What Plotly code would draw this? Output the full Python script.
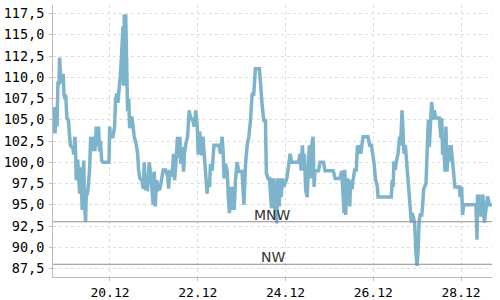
import pandas as pd
import plotly.graph_objects as go

start_time = "2023-12-18 16:50"

hours = [
    0.0, 0.5, 1.1, 1.8, 2.2, 2.7, 3.3, 3.6, 4.2, 4.6, 5.1, 5.6, 6.0, 6.6, 6.9, 7.6, 8.4, 8.7, 9.5, 10.2,
    10.9, 11.3, 12.0, 12.4, 12.7, 13.5, 14.0, 14.6, 15.1, 15.7, 16.0, 16.4, 16.8, 17.1, 17.5, 17.8, 18.2, 18.8, 19.3, 20.0,
    20.6, 21.5, 22.2, 22.9, 23.7, 24.4, 24.9, 25.5, 26.0, 26.6, 27.3, 30.6, 31.0, 31.5, 32.8, 33.7, 34.2, 35.0, 35.5, 36.1,
    36.8, 37.5, 37.9, 38.3, 38.6, 39.0, 39.8, 40.2, 40.8, 41.4, 41.9, 42.4, 43.2, 43.9, 44.4, 45.4, 46.3, 46.8, 47.5, 48.6,
    49.4, 49.9, 50.5, 51.7, 52.6, 53.6, 54.1, 54.8, 55.4, 55.9, 56.6, 57.7, 58.5, 59.6, 60.3, 61.7, 62.7, 63.2, 63.9, 64.7,
    65.4, 65.9, 66.5, 67.2, 68.1, 68.7, 69.4, 69.9, 70.8, 71.4, 71.9, 72.7, 73.6, 74.5, 75.4, 76.3, 77.2, 78.1, 78.9, 79.4,
    80.1, 80.7, 81.2, 82.0, 82.7, 83.4, 84.3, 84.9, 85.6, 86.1, 87.1, 88.0, 90.7, 91.6, 92.5, 93.1, 93.6, 94.3, 95.3, 95.8,
    96.5, 97.1, 97.6, 98.3, 99.1, 99.8, 100.7, 101.6, 103.4, 104.4, 105.3, 106.2, 107.1, 108.0, 108.9, 109.8, 110.7, 112.9, 113.5, 114.4,
    115.3, 116.2, 116.7, 117.6, 118.4, 118.9, 119.5, 120.0, 120.4, 120.8, 121.5, 121.8, 122.4, 122.9, 123.7, 124.2, 124.8, 125.5, 126.2, 127.9,
    128.8, 129.7, 130.6, 134.2, 135.1, 135.7, 136.4, 137.0, 137.5, 138.2, 139.0, 139.7, 140.2, 141.0, 141.5, 142.2, 142.8, 143.3, 145.2, 146.1,
    147.9, 148.8, 153.3, 154.3, 157.0, 157.9, 158.8, 159.2, 159.6, 160.1, 160.6, 161.4, 161.9, 162.3, 162.8, 163.6, 164.1, 165.0, 165.9, 166.5,
    167.2, 167.7, 168.3, 169.0, 169.6, 172.3, 173.2, 174.1, 175.0, 175.6, 176.3, 177.4, 177.8, 185.0, 185.6, 186.0, 186.5, 187.2, 187.8, 188.7,
    189.6, 190.1, 190.9, 191.4, 192.0, 192.7, 193.4, 194.2, 194.7, 195.2, 196.0, 196.5, 197.8, 198.4, 199.1, 199.7, 200.2, 200.9, 201.6, 202.2,
    202.7, 204.0, 204.9, 205.3, 205.8, 206.4, 206.7, 207.1, 207.6, 208.2, 208.5, 209.5, 211.3, 212.2, 212.6, 213.1, 213.6, 214.4, 214.9, 215.5,
    216.2, 216.9, 217.7, 218.4, 219.1, 219.8, 222.2, 222.7, 223.5, 224.0, 224.6, 231.3, 231.9, 232.2, 233.1, 234.0, 234.6, 235.1, 235.9, 236.8,
    237.7, 238.6, 240.1,
]

levels = [
    103.5, 106.5, 103.4, 106.5, 104.2, 109.3, 109.3, 112.3, 110.0, 109.3, 110.2, 110.2, 108.0, 107.4, 108.0, 105.2, 105.0, 103.8, 102.0, 101.8,
    101.8, 100.9, 103.0, 101.0, 97.9, 100.3, 97.1, 96.3, 99.4, 96.0, 94.4, 98.0, 100.2, 96.0, 94.4, 93.0, 96.3, 96.3, 97.2, 99.0,
    103.0, 101.3, 103.0, 101.3, 104.2, 101.9, 104.2, 101.3, 102.5, 100.2, 100.0, 100.0, 104.2, 103.0, 103.0, 104.2, 107.4, 108.1, 107.0, 109.3,
    110.2, 112.6, 116.0, 116.0, 109.0, 117.2, 117.2, 109.0, 106.0, 107.5, 104.0, 105.2, 105.2, 104.0, 103.0, 102.2, 101.0, 99.1, 98.1, 97.9,
    96.9, 100.0, 96.9, 96.8, 100.0, 98.3, 96.8, 95.0, 98.9, 94.8, 97.9, 96.8, 96.9, 98.3, 99.1, 99.1, 98.3, 96.9, 99.1, 98.3,
    99.1, 101.0, 97.9, 99.8, 103.0, 100.5, 103.0, 99.8, 101.8, 98.9, 101.0, 102.2, 103.0, 106.1, 105.0, 105.2, 104.2, 106.1, 104.2, 100.9,
    103.6, 102.8, 100.8, 103.0, 101.0, 98.3, 96.3, 97.9, 97.1, 99.8, 99.0, 102.0, 102.0, 101.0, 103.0, 101.0, 98.1, 99.8, 98.9, 96.3,
    94.0, 97.1, 94.4, 97.1, 94.4, 97.9, 100.0, 98.9, 98.9, 95.0, 99.8, 102.0, 103.0, 104.9, 108.0, 108.0, 111.0, 111.0, 108.8, 106.7,
    104.9, 104.9, 98.7, 98.1, 98.1, 96.0, 94.6, 98.1, 96.3, 98.1, 93.6, 96.3, 92.8, 98.1, 94.8, 98.1, 95.9, 98.1, 97.1, 98.1,
    100.0, 101.0, 100.0, 100.0, 101.0, 99.0, 102.0, 99.0, 101.0, 96.7, 95.9, 99.0, 102.0, 98.1, 102.0, 103.0, 97.1, 99.0, 99.0, 100.0,
    100.0, 99.0, 99.0, 98.1, 98.1, 99.0, 94.8, 94.0, 99.1, 93.8, 97.9, 97.9, 96.8, 94.8, 97.9, 96.8, 97.9, 99.1, 99.1, 102.0,
    101.0, 102.0, 101.0, 102.0, 103.0, 103.0, 102.0, 102.0, 101.0, 99.9, 98.1, 97.1, 95.9, 95.9, 97.9, 97.1, 100.1, 99.1, 100.1, 101.0,
    103.0, 102.0, 106.1, 102.0, 101.0, 102.0, 99.9, 97.1, 95.9, 94.0, 92.9, 94.0, 92.9, 89.7, 87.8, 89.7, 92.9, 94.0, 93.6, 95.0,
    96.8, 97.5, 101.8, 105.0, 101.8, 105.0, 105.9, 107.1, 105.9, 105.0, 106.1, 105.2, 105.2, 102.8, 105.2, 100.9, 102.6, 98.9, 104.2, 98.9,
    102.0, 100.1, 102.0, 100.1, 97.9, 97.1, 97.1, 95.9, 97.1, 93.8, 95.0, 95.0, 90.9, 96.2, 93.6, 96.2, 93.6, 96.2, 92.9, 95.0,
    96.0, 95.0, 95.0,
]

ref_labels = ["MNW", "NW"]
ref_values = [93, 88]

y_ticks_start = 87.5
y_tick_step = 2.5

times = pd.Timestamp(start_time) + pd.to_timedelta(hours, unit="h")

fig = go.Figure()
fig.add_trace(go.Scatter(
    x=times, y=levels, mode="lines",
    line=dict(color="#7db4cb", width=3.5),
    hoverinfo="skip", showlegend=False,
))

for lab, val in zip(ref_labels, ref_values):
    fig.add_shape(type="line", xref="paper", x0=0, x1=1, yref="y", y0=val, y1=val,
                  line=dict(color="#8c8c8c", width=1.2), layer="above")
    fig.add_annotation(text=lab, xref="paper", x=0.5, yref="y", y=val,
                       yanchor="bottom", yshift=-3, showarrow=False,
                       font=dict(family="DejaVu Sans", size=14, color="#333333"))

fig.update_layout(
    width=500, height=300,
    margin=dict(l=53, r=8, t=5, b=23),
    paper_bgcolor="white", plot_bgcolor="white",
    separators=",.",
    showlegend=False,
)
fig.update_xaxes(
    type="date", automargin=False,
    range=[times.min(), times.max()],
    tickformat="%d.%m", tick0="2023-12-20", dtick=2 * 86400000,
    showgrid=True, gridcolor="#dddddd", griddash="3px,3px", gridwidth=1,
    showline=True, linecolor="#bbbbbb", linewidth=1,
    ticks="outside", ticklen=3, tickcolor="#bbbbbb",
    tickfont=dict(family="DejaVu Sans Mono", size=13, color="black"),
    zeroline=False,
)
fig.update_yaxes(
    automargin=False,
    range=[86.5, 118.5],
    tick0=y_ticks_start, dtick=y_tick_step, tickformat=".1f",
    showgrid=True, gridcolor="#dddddd", griddash="3px,3px", gridwidth=1,
    showline=True, linecolor="#bbbbbb", linewidth=1,
    ticks="outside", ticklen=3, tickcolor="#bbbbbb", ticklabelstandoff=2,
    tickfont=dict(family="DejaVu Sans Mono", size=13.5, color="black"),
    zeroline=False,
)

fig.write_html("out.html")
